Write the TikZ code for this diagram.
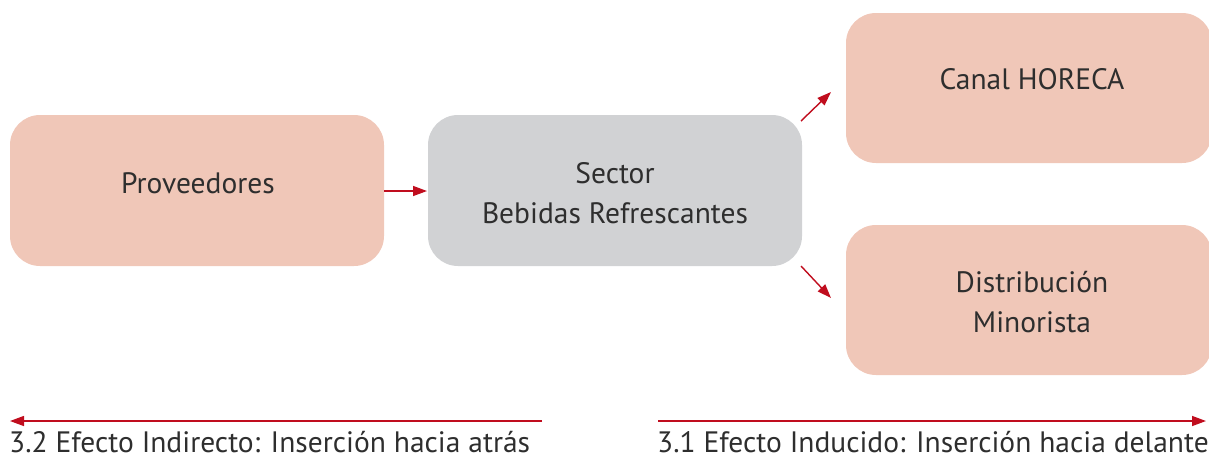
\documentclass[tikz,border=0pt]{standalone}
\usepackage{fontspec}
\setmainfont{PT Sans}
\usetikzlibrary{arrows.meta}
\definecolor{pinkbox}{HTML}{F0C7B8}
\definecolor{graybox}{HTML}{D1D2D4}
\definecolor{arrred}{HTML}{C00D1E}
\definecolor{txt}{HTML}{2E2E2E}
\tikzset{
  box/.style={rounded corners=30pt, draw=none},
  lbl/.style={text=txt, font=\fontsize{29.5}{40}\selectfont, align=center, inner sep=0pt},
  redarr/.style={draw=arrred, line width=1.4pt, -{Triangle[length=14pt,width=10pt]}},
}
\begin{document}
\begin{tikzpicture}[x=1pt,y=-1pt]
\useasboundingbox (0,0) rectangle (1209,459);
\clip (0,0) rectangle (1209,459);
\fill[box, pinkbox] (10,115) rectangle (384,266);
\fill[box, graybox] (428,115) rectangle (802,266);
\fill[box, pinkbox] (846,13) rectangle (1212,163);
\fill[box, pinkbox] (846,225) rectangle (1212,375);
\node[lbl] (prov) at (198,183) {Proveedores};
\node[lbl] (sector) at (615,193) {Sector\\Bebidas Refrescantes};
\node[lbl] (canal) at (1032,79) {Canal HORECA};
\node[lbl] (dist) at (1032,302) {Distribución\\Minorista};
\coordinate (p1) at (384,191);
\coordinate (p2) at (427,191);
\coordinate (u1) at (801,121);
\coordinate (u2) at (831,92);
\coordinate (d1) at (801,266);
\coordinate (d2) at (831,298);
\draw[redarr] (p1) -- (p2);
\draw[redarr] (u1) -- (u2);
\draw[redarr] (d1) -- (d2);
\coordinate (l1) at (542,421);
\coordinate (l2) at (10,421);
\coordinate (r1) at (658,421);
\coordinate (r2) at (1206,421);
\draw[redarr] (l1) -- (l2);
\draw[redarr] (r1) -- (r2);
\node[lbl, anchor=base west, text depth=0pt] (back) at (9,452) {3.2 Efecto Indirecto: Inserción hacia atrás};
\node[lbl, anchor=base west, text depth=0pt] (fwd) at (657,452) {3.1 Efecto Inducido: Inserción hacia delante};
\end{tikzpicture}
\end{document}
